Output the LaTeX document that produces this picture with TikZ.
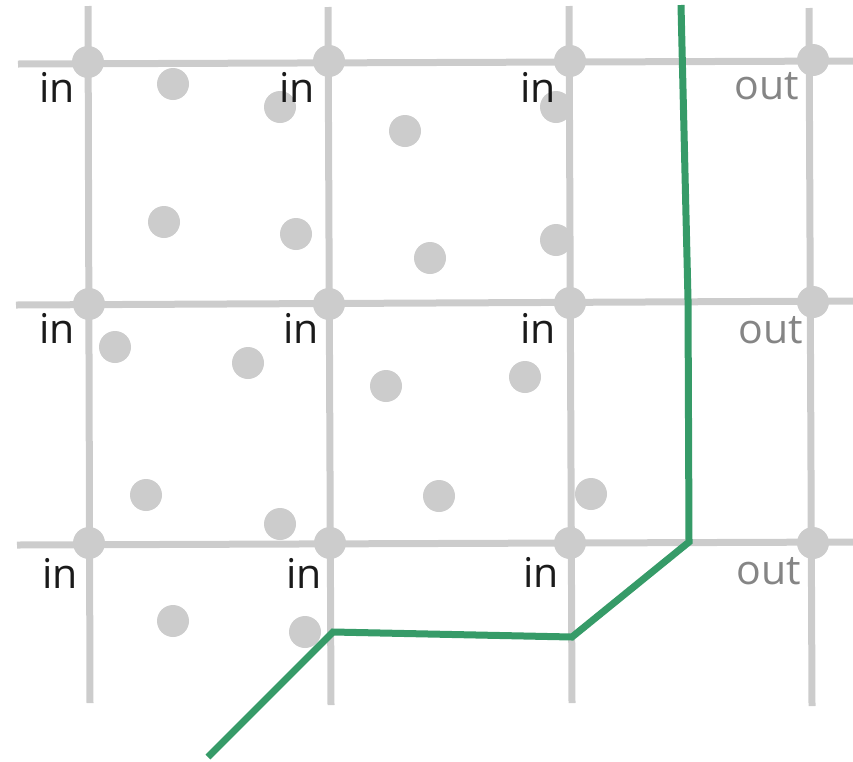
\documentclass[tikz,border=0pt]{standalone}
\usepackage{fontspec}
\setmainfont{Open Sans}
\definecolor{gridgray}{HTML}{CCCCCC}
\definecolor{intext}{HTML}{1A1A1A}
\definecolor{outtext}{HTML}{858585}
\definecolor{pathgreen}{RGB}{54,155,104}
\begin{document}
\begin{tikzpicture}[x=1pt,y=-1pt,
  gridline/.style={draw=gridgray,line width=7pt},
  gdot/.style={circle,fill=gridgray,inner sep=0pt,minimum size=32pt},
  inlabel/.style={anchor=base east,inner sep=0pt,text=intext,font=\fontsize{41}{48}\selectfont},
  outlabel/.style={anchor=base east,inner sep=0pt,text=outtext,font=\fontsize{41}{48}\selectfont},
  route/.style={draw=pathgreen,line width=7pt,line join=miter}]
\useasboundingbox (0,0) rectangle (853,761);
% grid lines
\draw[gridline] (88,6) -- (90,703);
\draw[gridline] (328,7) -- (331,705);
\draw[gridline] (569,6) -- (572,703);
\draw[gridline] (809,8) -- (812,706);
\draw[gridline] (18,64) -- (853,61);
\draw[gridline] (16,305) -- (853,301);
\draw[gridline] (17,545) -- (853,542);
% intersection dots
\node[gdot] (i11) at (88,62) {};
\node[gdot] (i12) at (329,61) {};
\node[gdot] (i13) at (570,61) {};
\node[gdot] (i14) at (813,60) {};
\node[gdot] (i21) at (89,304) {};
\node[gdot] (i22) at (329,304) {};
\node[gdot] (i23) at (570,303) {};
\node[gdot] (i24) at (813,302) {};
\node[gdot] (i31) at (89,543) {};
\node[gdot] (i32) at (330,543) {};
\node[gdot] (i33) at (570,543) {};
\node[gdot] (i34) at (813,543) {};
% scattered dots
\node[gdot] (d1) at (173,84) {};
\node[gdot] (d2) at (280,107) {};
\node[gdot] (d3) at (405,131) {};
\node[gdot] (d4) at (556,107) {};
\node[gdot] (d5) at (164,222) {};
\node[gdot] (d6) at (296,234) {};
\node[gdot] (d7) at (430,258) {};
\node[gdot] (d8) at (556,240) {};
\node[gdot] (d9) at (115,347) {};
\node[gdot] (d10) at (248,363) {};
\node[gdot] (d11) at (386,386) {};
\node[gdot] (d12) at (525,377) {};
\node[gdot] (d13) at (146,495) {};
\node[gdot] (d14) at (280,524) {};
\node[gdot] (d15) at (439,496) {};
\node[gdot] (d16) at (591,494) {};
\node[gdot] (d17) at (173,621) {};
\node[gdot] (d18) at (305,632) {};
% labels
\node[inlabel] (l11) at (75,102) {in};
\node[inlabel] (l12) at (315,102) {in};
\node[inlabel] (l13) at (556,102) {in};
\node[outlabel] (l14) at (799,99) {out};
\node[inlabel] (l21) at (75,343) {in};
\node[inlabel] (l22) at (319,343) {in};
\node[inlabel] (l23) at (556,343) {in};
\node[outlabel] (l24) at (803,343) {out};
\node[inlabel] (l31) at (78,588) {in};
\node[inlabel] (l32) at (322,588) {in};
\node[inlabel] (l33) at (559,587) {in};
\node[outlabel] (l34) at (801,584) {out};
% green route
\coordinate (p0) at (208,757);
\coordinate (p1) at (333,632);
\coordinate (p2) at (572,637);
\coordinate (p3) at (689,542);
\coordinate (p4) at (688,300);
\coordinate (p5) at (681,5);
\draw[route] (p0) -- (p1) -- (p2) -- (p3) -- (p4) -- (p5);
\end{tikzpicture}
\end{document}
